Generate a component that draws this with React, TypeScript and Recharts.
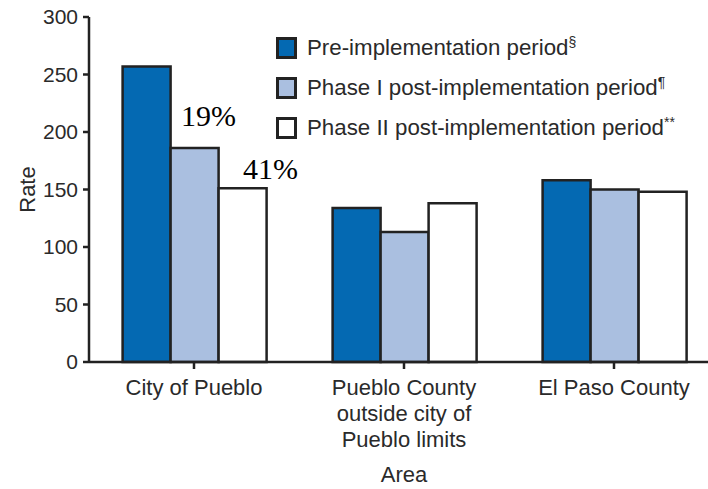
import React from 'react';
import { BarChart, Bar, XAxis, YAxis, LabelList, Label } from 'recharts';

const categories = ['City of Pueblo', 'Pueblo County outside city of Pueblo limits', 'El Paso County'];
const categoryLines = [['City of Pueblo'], ['Pueblo County', 'outside city of', 'Pueblo limits'], ['El Paso County']];
const preValues = [257, 134, 158];
const phase1Values = [186, 113, 150];
const phase2Values = [151, 138, 148];
const phase1Notes = ['19%', '', ''];
const phase2Notes = ['41%', '', ''];
const yTicks = [0, 50, 100, 150, 200, 250, 300];

const seriesInfo = [
  { key: 'pre', name: 'Pre-implementation period', sup: '§', fill: '#0469B2' },
  { key: 'p1', name: 'Phase I post-implementation period', sup: '¶', fill: '#AABFE0' },
  { key: 'p2', name: 'Phase II post-implementation period', sup: '**', fill: '#FFFFFF' },
];

const data = categories.map((c, i) => ({
  category: c,
  pre: preValues[i],
  p1: phase1Values[i],
  p2: phase2Values[i],
  n1: phase1Notes[i],
  n2: phase2Notes[i],
}));

const SANS = '"Liberation Sans", Arial, Helvetica, sans-serif';
const SERIF = '"Liberation Serif", "Times New Roman", serif';
const STROKE = '#222';
const TEXT = '#2a2a2a';

const CategoryTick = (props: any) => {
  const { x, y, index } = props;
  const lines = categoryLines[index] || [];
  return (
    <g>
      {lines.map((l, i) => (
        <text key={i} x={x} y={y + 24 + i * 26} textAnchor="middle" fontSize={22} fill={TEXT} fontFamily={SANS}>
          {l}
        </text>
      ))}
    </g>
  );
};

const makeNote = (dx: number, dy: number) => (props: any) => {
  const { x, y, width, value } = props;
  if (!value) return null;
  return (
    <text x={x + width / 2 + dx} y={y + dy} textAnchor="middle" fontSize={30} fill="#000" fontFamily={SERIF}>
      {value}
    </text>
  );
};

const LegendBox = () => (
  <div style={{ position: 'absolute', left: 276, top: 28, fontFamily: SANS, fontSize: 22.3, color: TEXT }}>
    {seriesInfo.map((s) => (
      <div key={s.key} style={{ height: 40, display: 'flex', alignItems: 'center' }}>
        <div style={{ width: 15, height: 16, border: `3px solid ${STROKE}`, background: s.fill, marginRight: 10, flexShrink: 0 }} />
        <span style={{ whiteSpace: 'nowrap' }}>
          {s.name}
          <sup style={{ fontSize: 14, verticalAlign: 'top', position: 'relative', top: -1 }}>{s.sup}</sup>
        </span>
      </div>
    ))}
  </div>
);

export default function App() {
  return (
    <div style={{ width: 708, height: 489, overflow: 'hidden', position: 'relative', background: '#fff' }}>
      <style>{`body{margin:0}`}</style>
      <BarChart
        width={723}
        height={489}
        data={data}
        margin={{ top: 17, right: 4, left: 0, bottom: 0 }}
        barGap={0}
        barCategoryGap="16%"
      >
        <XAxis
          dataKey="category"
          height={127}
          interval={0}
          tickSize={7}
          tickMargin={2}
          axisLine={{ stroke: STROKE, strokeWidth: 2.5 }}
          tickLine={{ stroke: STROKE, strokeWidth: 2.5 }}
          tick={<CategoryTick />}
        >
          <Label
            content={(p: any) => (
              <text x={p.viewBox.x + p.viewBox.width / 2} y={482} textAnchor="middle" fontSize={22} fill={TEXT} fontFamily={SANS}>
                Area
              </text>
            )}
          />
        </XAxis>
        <YAxis
          width={89}
          domain={[0, 300]}
          ticks={yTicks}
          interval={0}
          tickSize={6}
          tickMargin={5}
          axisLine={{ stroke: STROKE, strokeWidth: 2.5 }}
          tickLine={{ stroke: STROKE, strokeWidth: 2.5 }}
          tick={{ fontSize: 21, fill: TEXT, fontFamily: SANS }}
        >
          <Label
            content={(p: any) => (
              <text
                x={27}
                y={p.viewBox.y + p.viewBox.height / 2}
                transform={`rotate(-90 27 ${p.viewBox.y + p.viewBox.height / 2})`}
                textAnchor="middle"
                dominantBaseline="central"
                fontSize={22}
                fill={TEXT}
                fontFamily={SANS}
              >
                Rate
              </text>
            )}
          />
        </YAxis>
        <Bar dataKey="pre" name={seriesInfo[0].name} fill={seriesInfo[0].fill} stroke={STROKE} strokeWidth={2.5} isAnimationActive={false} />
        <Bar dataKey="p1" name={seriesInfo[1].name} fill={seriesInfo[1].fill} stroke={STROKE} strokeWidth={2.5} isAnimationActive={false}>
          <LabelList dataKey="n1" content={makeNote(14, -22)} />
        </Bar>
        <Bar dataKey="p2" name={seriesInfo[2].name} fill={seriesInfo[2].fill} stroke={STROKE} strokeWidth={2.5} isAnimationActive={false}>
          <LabelList dataKey="n2" content={makeNote(28, -9)} />
        </Bar>
      </BarChart>
      <LegendBox />
    </div>
  );
}
